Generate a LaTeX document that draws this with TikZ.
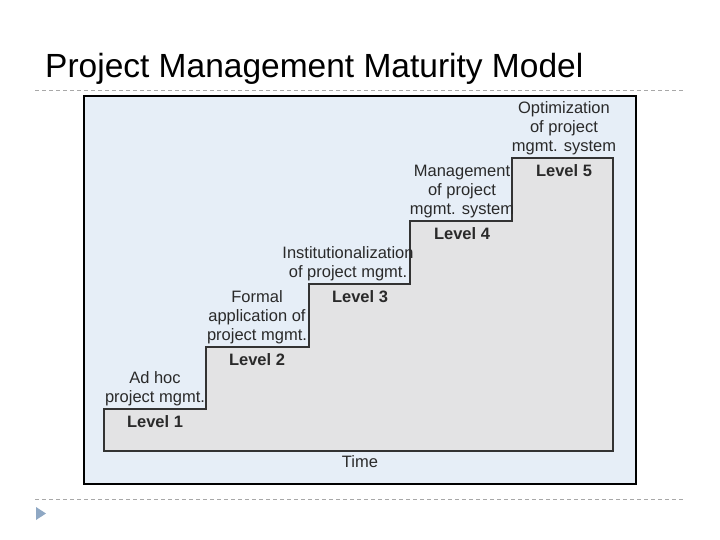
\documentclass[tikz,border=0pt]{standalone}
\usepackage{fontspec}
\setmainfont{Liberation Sans}
\definecolor{bgblue}{HTML}{E6EEF7}
\definecolor{stepgray}{HTML}{E3E3E4}
\definecolor{dashg}{HTML}{A8A8A8}
\definecolor{tri}{HTML}{8FA8C4}
\definecolor{txt}{HTML}{2A2A2A}
\begin{document}
\begin{tikzpicture}[x=1pt,y=-1pt,
  lab/.style={align=center,font=\fontsize{16.5}{19}\selectfont,text=txt,inner sep=0pt},
  lvl/.style={font=\fontsize{16.5}{19}\selectfont\bfseries,text=txt,inner sep=0pt},
  dline/.style={dashg,dashed,dash pattern=on 4pt off 3pt,line width=0.8pt}]
\useasboundingbox (0,0) rectangle (720,540);
\node[anchor=base west,font=\fontsize{33.5}{36}\selectfont,inner sep=0pt] (title) at (45,78) {Project Management Maturity Model};
\draw[dline] (35,90) -- (685,90);
\draw[dline] (35,499) -- (685,499);
\fill[tri] (36,507) -- (46,513.5) -- (36,520) -- cycle;
\draw[line width=1.5pt,fill=bgblue] (84,96) rectangle (636,484);
\draw[line width=1.3pt,fill=stepgray,draw=black!80] (104,451) -- (104,409) -- (206,409) -- (206,347) -- (309,347) -- (309,284) -- (410,284) -- (410,221) -- (512,221) -- (512,158) -- (613,158) -- (613,451) -- cycle;
\node[lab,anchor=south] (t1) at (155,406) {Ad hoc\\project mgmt.};
\node[lvl] (l1) at (155,422) {Level 1};
\node[lab,anchor=south] (t2) at (257,344) {Formal\\application of\\project mgmt.};
\node[lvl] (l2) at (257,360) {Level 2};
\node[lab,anchor=south] (t3) at (348,281) {Institutionalization\\of project mgmt.};
\node[lvl] (l3) at (360,297) {Level 3};
\node[lab,anchor=south] (t4) at (462,218) {Management\\of project\\mgmt. system};
\node[lvl] (l4) at (462,234) {Level 4};
\node[lab,anchor=south] (t5) at (564,155) {Optimization\\of project\\mgmt. system};
\node[lvl] (l5) at (564,171) {Level 5};
\node[lab] (time) at (360,462) {Time};
\end{tikzpicture}
\end{document}
